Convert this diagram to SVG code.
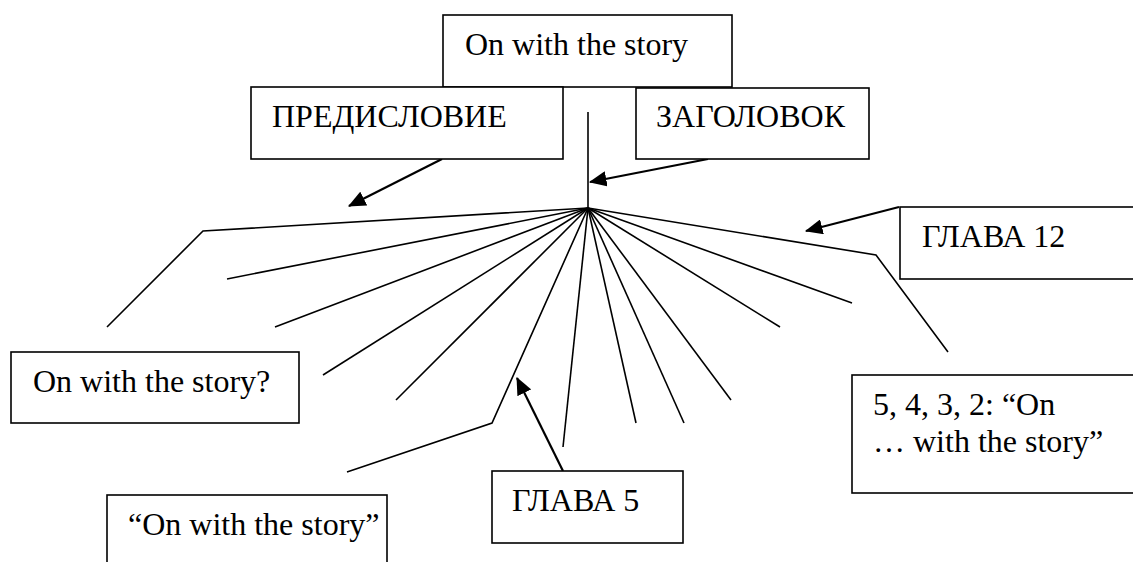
<svg xmlns="http://www.w3.org/2000/svg" width="1133" height="562" viewBox="0 0 1133 562">
<style>
.box{fill:#fff;stroke:#000;stroke-width:1.6}
.t{font-family:'Liberation Serif','DejaVu Serif',serif;font-size:32px;fill:#000}
.fan{fill:none;stroke:#000;stroke-width:1.6;stroke-linejoin:miter}
.arr{fill:none;stroke:#000;stroke-width:2.2;marker-end:url(#ah)}
</style>
<defs>
<marker id="ah" markerWidth="8" markerHeight="7" refX="7.5" refY="3.5" orient="auto" markerUnits="strokeWidth">
<path d="M0,0 L8,3.5 L0,7 Z" fill="#000"/>
</marker>
</defs>
<rect width="1133" height="562" fill="#fff"/>
<g id="connectors">
<line class="fan" x1="588" y1="112" x2="588" y2="208"/>
<polyline class="fan" points="588,208 203,231 107,327"/>
<line class="fan" x1="588" y1="208" x2="227" y2="279"/>
<line class="fan" x1="588" y1="208" x2="275" y2="327"/>
<line class="fan" x1="588" y1="208" x2="323" y2="375"/>
<line class="fan" x1="588" y1="208" x2="396" y2="400"/>
<polyline class="fan" points="588,208 492,423 347,472"/>
<line class="fan" x1="588" y1="208" x2="563" y2="447"/>
<line class="fan" x1="588" y1="208" x2="636" y2="423"/>
<line class="fan" x1="588" y1="208" x2="684" y2="423"/>
<line class="fan" x1="588" y1="208" x2="731" y2="400"/>
<line class="fan" x1="588" y1="208" x2="780" y2="327"/>
<line class="fan" x1="588" y1="208" x2="852" y2="303"/>
<polyline class="fan" points="588,208 876,255 948,352"/>
<line class="arr" x1="442" y1="159" x2="349" y2="206"/>
<line class="arr" x1="708" y1="159" x2="590" y2="182"/>
<line class="arr" x1="899" y1="207" x2="806" y2="231"/>
<line class="arr" x1="563" y1="471" x2="517" y2="378"/>
</g>
<g id="node-top">
<rect class="box" x="443" y="15" width="289" height="72"/>
<text class="t" font-family="Liberation Serif" x="465" y="55">On with the story</text>
</g>
<g id="node-predislovie">
<rect class="box" x="251" y="87" width="312" height="72"/>
<text class="t" font-family="Liberation Serif" x="272" y="127">ПРЕДИСЛОВИЕ</text>
</g>
<g id="node-zagolovok">
<rect class="box" x="636" y="88" width="233" height="71"/>
<text class="t" font-family="Liberation Serif" x="656" y="127">ЗАГОЛОВОК</text>
</g>
<g id="node-glava12">
<rect class="box" x="900" y="207" width="245" height="72"/>
<text class="t" font-family="Liberation Serif" x="922" y="247">ГЛАВА 12</text>
</g>
<g id="node-countdown">
<rect class="box" x="852" y="375" width="293" height="118"/>
<text class="t" font-family="Liberation Serif" x="873" y="415">5, 4, 3, 2: “On</text>
<text class="t" font-family="Liberation Serif" x="873" y="452">… with the story”</text>
</g>
<g id="node-question">
<rect class="box" x="11" y="352" width="288" height="71"/>
<text class="t" font-family="Liberation Serif" x="33" y="392">On with the story?</text>
</g>
<g id="node-quoted">
<rect class="box" x="107" y="495" width="280" height="80"/>
<text class="t" font-family="Liberation Serif" x="128" y="535">“On with the story”</text>
</g>
<g id="node-glava5">
<rect class="box" x="492" y="471" width="191" height="72"/>
<text class="t" font-family="Liberation Serif" x="512" y="511">ГЛАВА 5</text>
</g>
</svg>
